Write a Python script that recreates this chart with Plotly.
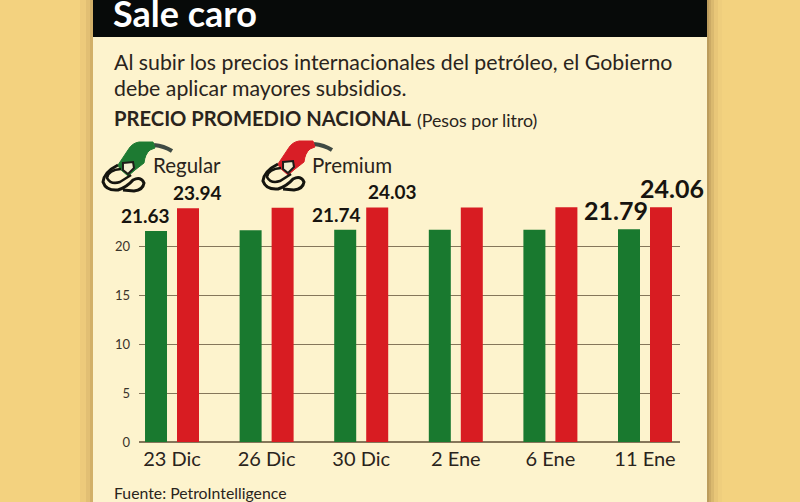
import plotly.graph_objects as go

W = 800
H = 502

dates = ["23 Dic", "26 Dic", "30 Dic", "2 Ene", "6 Ene", "11 Ene"]
regular = [21.63, 21.7, 21.74, 21.74, 21.75, 21.79]
premium = [23.94, 24.0, 24.03, 24.03, 24.04, 24.06]
y_ticks = [0, 5, 10, 15, 20]

# labels shown above the bars: category, value, shift in px, font size
regular_labels = [("23 Dic", 21.63, -27, 19), ("30 Dic", 21.74, -25, 19), ("11 Ene", 21.79, -29, 25)]
premium_labels = [("23 Dic", 23.94, 25, 19), ("30 Dic", 24.03, 31, 19), ("11 Ene", 24.06, 27, 25)]

TEXT = "#2a241c"
FONT = "Lato"


def px(x):
  return x / W


def py(y):
  return 1 - y / H


def rect(x0, y0, x1, y1, color):
  return dict(type="rect", xref="paper", yref="paper", layer="below",
              x0=px(x0), x1=px(x1), y0=py(y0), y1=py(y1),
              fillcolor=color, line_width=0)


def path(cmds, dx=0, dy=0, **style):
  # cmds are SVG-like commands written in screen pixels
  parts = []
  for c, *pts in cmds:
    coords = " ".join(f"{px(x + dx):.4f},{py(y + dy):.4f}" for x, y in pts)
    parts.append(f"{c}{coords}")
  return dict(type="path", xref="paper", yref="paper", layer="above",
              path=" ".join(parts), **style)


def text(x, y, s, size, color=TEXT, anchor="left"):
  return dict(xref="paper", yref="paper", x=px(x), y=py(y), text=s, showarrow=False,
              borderpad=0, borderwidth=0,
              xanchor=anchor, yanchor="middle", font=dict(size=size, color=color, family=FONT))


def pump(color, dx, dy=0):
  body = [("M", (118, 165)), ("L", (128, 150)), ("Q", (132, 143), (139, 142)), ("L", (153, 142)),
          ("L", (155, 148)), ("L", (150, 150)), ("Q", (145, 154), (144, 163)),
          ("L", (135, 170)), ("L", (128, 176)), ("L", (120, 169)), ("Z",)]
  spout = [("M", (154, 145)), ("Q", (164, 146), (172, 151))]
  guard = [("M", (123, 163)), ("L", (133, 162)), ("L", (134, 168)), ("L", (128, 174)), ("L", (123, 170)), ("Z",)]
  hose = [("M", (118, 165)), ("Q", (104, 172), (103, 182)), ("Q", (106, 191), (118, 190)),
          ("Q", (127, 187), (133, 180)), ("Q", (141, 176), (144, 183)), ("Q", (143, 190), (134, 191)),
          ("L", (123, 190))]
  inner = [("M", (121, 169)), ("Q", (108, 170), (107, 178)), ("Q", (111, 185), (120, 182)),
           ("L", (131, 175))]
  return [
    path(spout, dx, dy, line=dict(color="#3f4a44", width=4)),
    path(body, dx, dy, fillcolor=color, line=dict(color=color, width=1)),
    path(guard, dx, dy, fillcolor="#f2efd0", line=dict(color="#1c1c18", width=2)),
    path(hose, dx, dy, line=dict(color="#15150f", width=3)),
    path(inner, dx, dy, line=dict(color="#15150f", width=2.5)),
  ]


shapes = [
  rect(0, 0, W, H, "#f3d27f"),
  # soft shadows either side of the panel
  rect(80, 0, 86, H, "#edca7b"),
  rect(86, 0, 90, H, "#e2bf74"),
  rect(90, 0, 93, H, "#d2b068"),
  rect(707, 0, 709, H, "#bc9c5c"),
  rect(709, 0, 711, H, "#cbaa65"),
  rect(711, 0, 714, H, "#dab96f"),
  rect(714, 0, 718, H, "#e8c678"),
  rect(718, 0, 722, H, "#efce7d"),
  rect(93, 37, 707, H, "#fdf3cd"),
  rect(93, 0, 707, 37, "#070a09"),
]
shapes += pump("#1d7a32", 0)
shapes += pump("#d81e26", 160, -1)

annotations = [
  text(113, 13, "<b>Sale caro</b>", 36, "#ffffff"),
  text(114, 62, "Al subir los precios internacionales del petróleo, el Gobierno", 21.3),
  text(114, 88, "debe aplicar mayores subsidios.", 21.3),
  text(114, 118, "<b>PRECIO PROMEDIO NACIONAL</b>", 20.2),
  text(417, 120, "(Pesos por litro)", 17.8),
  text(153, 165, "Regular", 20.5),
  text(312, 165, "Premium", 20.5),
  text(114, 492, "Fuente: PetroIntelligence", 15.8),
]
for cat, val, shift, size in regular_labels + premium_labels:
  annotations.append(dict(x=cat, y=val, text=f"<b>{val:.2f}</b>", showarrow=False,
                          xshift=shift, yshift=2, yanchor="bottom",
                          font=dict(size=size, color="#17140f", family=FONT)))

fig = go.Figure()
fig.add_bar(x=dates, y=regular, name="Regular", marker_color="#19792f", marker_line_width=0)
fig.add_bar(x=dates, y=premium, name="Premium", marker_color="#d81c22", marker_line_width=0)

fig.update_layout(
  width=W, height=H + 8,
  margin=dict(l=0, r=0, t=0, b=0),
  paper_bgcolor="#f3d27f",
  plot_bgcolor="rgba(0,0,0,0)",
  barmode="group", bargap=0.3235, bargroupgap=0.3125,
  showlegend=False,
  shapes=shapes,
  annotations=annotations,
)
fig.update_xaxes(domain=[px(139), px(680)], range=[-0.349, 5.37], showgrid=False,
                 showline=False, ticks="", zeroline=False, ticklabelstandoff=3,
                 tickfont=dict(size=20, color=TEXT, family=FONT))
fig.update_yaxes(domain=[py(442), py(198)], range=[0, 25], tickvals=y_ticks,
                 gridcolor="#85765a", gridwidth=1, zeroline=True, zerolinecolor="#85765a",
                 zerolinewidth=1.5, showline=False, ticks="", ticklabelstandoff=8,
                 tickfont=dict(size=13, color="#3a342a", family=FONT))

# the page's default body margin would push the figure 8px off the window
fig.write_html("out.html", config=dict(displayModeBar=False),
               post_script="document.body.style.margin = '0';")
